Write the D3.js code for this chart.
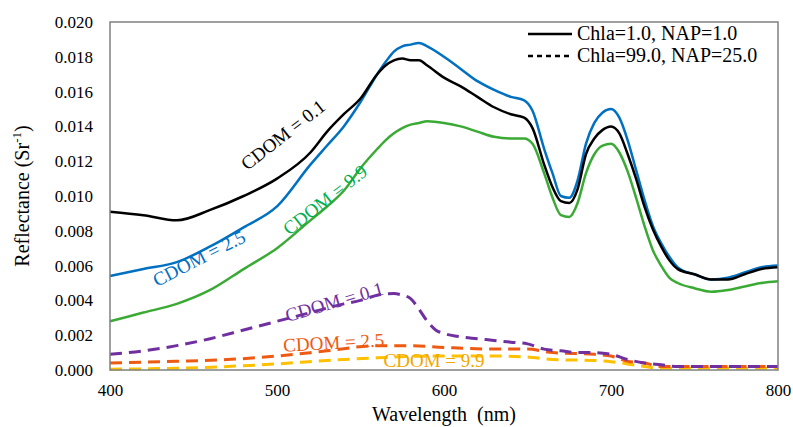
<!DOCTYPE html>
<html>
<head>
<meta charset="utf-8">
<script src="https://cdn.jsdelivr.net/npm/d3@7"></script>
<style>
  body { margin: 0; background: #fff; }
  svg text { font-family: "Liberation Serif", "Times New Roman", Times, "DejaVu Serif", serif; }
</style>
</head>
<body>
<script>
//Size of the picture
var width = 793;
var height = 427;
var margin = {top: 22, right: 15, bottom: 57, left: 110};

//Wavelengths for the solid (Chla=1.0, NAP=1.0) curves
var wlSolid = [400, 420, 440, 460, 480, 500, 520, 530, 540, 550, 560, 565, 570, 575, 580, 585, 590, 600, 610, 620, 630, 640, 648, 653, 660, 665, 670, 675, 680, 685, 690, 695, 700, 705, 710, 715, 720, 725, 730, 735, 740, 750, 760, 770, 780, 790, 800];
var cdom01Solid = [0.0091, 0.0089, 0.0086, 0.0092, 0.0100, 0.0110, 0.0125, 0.0137, 0.0147, 0.0156, 0.0170, 0.0175, 0.0178, 0.0179, 0.0178, 0.0178, 0.0175, 0.0168, 0.0163, 0.0157, 0.0151, 0.0147, 0.0145, 0.0139, 0.0118, 0.0105, 0.0097, 0.0096, 0.0104, 0.0124, 0.0133, 0.0138, 0.0140, 0.0136, 0.0124, 0.0110, 0.0094, 0.0081, 0.0071, 0.0063, 0.0058, 0.0055, 0.0052, 0.0052, 0.0055, 0.0058, 0.0059];
var cdom25Solid = [0.0054, 0.0058, 0.0062, 0.0071, 0.0082, 0.0094, 0.0118, 0.0129, 0.0140, 0.0154, 0.0170, 0.0177, 0.0183, 0.0186, 0.0187, 0.0188, 0.0186, 0.0180, 0.0173, 0.0166, 0.0161, 0.0157, 0.0155, 0.0149, 0.0127, 0.0113, 0.0100, 0.0099, 0.0109, 0.0130, 0.0142, 0.0148, 0.0150, 0.0145, 0.0132, 0.0115, 0.0098, 0.0083, 0.0073, 0.0065, 0.0059, 0.0055, 0.0052, 0.0053, 0.0056, 0.0059, 0.0060];
var cdom99Solid = [0.0028, 0.0033, 0.0038, 0.0046, 0.0058, 0.0070, 0.0086, 0.0094, 0.0103, 0.0116, 0.0127, 0.0132, 0.0136, 0.0139, 0.0141, 0.0142, 0.0143, 0.0142, 0.0140, 0.0137, 0.0134, 0.0133, 0.0133, 0.0130, 0.0113, 0.0099, 0.0089, 0.0088, 0.0096, 0.0113, 0.0124, 0.0129, 0.0130, 0.0125, 0.0114, 0.0099, 0.0083, 0.0069, 0.0060, 0.0053, 0.0050, 0.0047, 0.0045, 0.0046, 0.0048, 0.0050, 0.0051];

//Dashed (Chla=99.0, NAP=25.0) curves
var wlPurple = [400, 420, 440, 460, 480, 500, 520, 540, 550, 560, 570, 575, 580, 585, 590, 595, 600, 610, 620, 630, 640, 650, 660, 670, 680, 690, 700, 710, 720, 730, 740, 760, 780, 800];
var cdom01Dash = [0.0009, 0.0011, 0.0014, 0.0018, 0.0023, 0.0028, 0.0033, 0.0038, 0.0040, 0.0043, 0.0044, 0.0043, 0.0041, 0.0035, 0.0028, 0.0023, 0.0021, 0.0019, 0.0018, 0.0017, 0.0016, 0.0015, 0.0012, 0.0011, 0.0010, 0.0010, 0.0009, 0.0006, 0.0004, 0.0003, 0.0002, 0.0002, 0.0002, 0.0002];
var wlLow = [400, 440, 470, 500, 530, 560, 580, 600, 630, 650, 665, 690, 700, 710, 720, 730, 760, 800];
var cdom25Dash = [0.0004, 0.0005, 0.0006, 0.0008, 0.0011, 0.0014, 0.0014, 0.0013, 0.0012, 0.0012, 0.0010, 0.0009, 0.0008, 0.0005, 0.0004, 0.0002, 0.0002, 0.0002];
var cdom99Dash = [0.00005, 0.0001, 0.0002, 0.00035, 0.00055, 0.0007, 0.00078, 0.0008, 0.0008, 0.00075, 0.0006, 0.00055, 0.00048, 0.00035, 0.0002, 0.0001, 0.0001, 0.0001];

//Axis ticks
var xTicks = [400, 500, 600, 700, 800];
var yTicks = [0, 0.002, 0.004, 0.006, 0.008, 0.010, 0.012, 0.014, 0.016, 0.018, 0.020];

var series = [
    {wl: wlSolid, v: cdom01Solid, color: "#000000", dash: null},
    {wl: wlSolid, v: cdom25Solid, color: "#0070C0", dash: null},
    {wl: wlSolid, v: cdom99Solid, color: "#3AAA35", dash: null},
    {wl: wlPurple, v: cdom01Dash, color: "#7030A0", dash: "12,7"},
    {wl: wlLow, v: cdom25Dash, color: "#EE5A12", dash: "12,7"},
    {wl: wlLow, v: cdom99Dash, color: "#FFC000", dash: "12,7"}
];

//Curve labels: placement in pixels, angle in degrees
var labels = [
    {text: "CDOM = 0.1", color: "#000000", x: 287, y: 140, angle: -38},
    {text: "CDOM = 2.5", color: "#0070C0", x: 202, y: 264, angle: -27},
    {text: "CDOM = 9.9", color: "#00B050", x: 329, y: 205, angle: -38},
    {text: "CDOM = 0.1", color: "#7030A0", x: 336, y: 308, angle: -16},
    {text: "CDOM = 2.5", color: "#EE5A12", x: 334, y: 349, angle: -3},
    {text: "CDOM = 9.9", color: "#F0A800", x: 434, y: 367, angle: 0}
];

var x = d3.scaleLinear()
    .domain([400, 800])
    .range([margin.left, width - margin.right]);

var y = d3.scaleLinear()
    .domain([0, 0.020])
    .range([height - margin.bottom, margin.top]);

var svg = d3.select("body")
    .append("svg")
    .attr("width", width)
    .attr("height", height);

var line = d3.line()
    .x(function(d) { return x(d[0]); })
    .y(function(d) { return y(d[1]); })
    .curve(d3.curveMonotoneX);

//Draw the curves, dashed ones first so solid sit on top
svg.append("g")
    .selectAll("path")
    .data(series.slice().reverse())
    .enter()
    .append("path")
    .attr("d", function(s) {
        return line(s.wl.map(function(w, i) { return [w, s.v[i]]; }));
    })
    .attr("fill", "none")
    .attr("stroke", function(s) { return s.color; })
    .attr("stroke-width", function(s) { return s.dash ? 3 : 2.5; })
    .attr("stroke-dasharray", function(s) { return s.dash; });

//Plot frame
svg.append("rect")
    .attr("x", margin.left)
    .attr("y", margin.top)
    .attr("width", width - margin.left - margin.right)
    .attr("height", height - margin.top - margin.bottom)
    .attr("fill", "none")
    .attr("stroke", "#808080")
    .attr("stroke-width", 1.5);

//Axes without tick marks
var xAxis = svg.append("g")
    .attr("transform", "translate(0," + (height - margin.bottom) + ")")
    .call(d3.axisBottom(x).tickValues(xTicks).tickSize(0).tickPadding(14).tickFormat(d3.format("d")));
xAxis.select(".domain").remove();
xAxis.attr("font-family", null).attr("font-size", null);
xAxis.selectAll("text").attr("font-size", 17).attr("fill", "#000");

var yAxis = svg.append("g")
    .attr("transform", "translate(" + margin.left + ",0)")
    .call(d3.axisLeft(y).tickValues(yTicks).tickSize(0).tickPadding(17).tickFormat(d3.format(".3f")));
yAxis.select(".domain").remove();
yAxis.attr("font-family", null).attr("font-size", null);
yAxis.selectAll("text").attr("font-size", 17).attr("fill", "#000");

//Axis titles
svg.append("text")
    .attr("x", (margin.left + width - margin.right) / 2)
    .attr("y", 421)
    .attr("text-anchor", "middle")
    .attr("font-size", 20)
    .attr("xml:space", "preserve")
    .text("Wavelength  (nm)");

var yTitle = svg.append("text")
    .attr("transform", "translate(29," + (margin.top + height - margin.bottom) / 2 + ") rotate(-90)")
    .attr("text-anchor", "middle")
    .attr("font-size", 20);
yTitle.append("tspan").text("Reflectance (Sr");
yTitle.append("tspan").attr("font-size", 13).attr("dy", -8).text("-1");
yTitle.append("tspan").attr("dy", 8).text(")");

//Curve labels
svg.append("g")
    .selectAll("text")
    .data(labels)
    .enter()
    .append("text")
    .attr("transform", function(d) { return "translate(" + d.x + "," + d.y + ") rotate(" + d.angle + ")"; })
    .attr("text-anchor", "middle")
    .attr("font-size", 19)
    .attr("fill", function(d) { return d.color; })
    .text(function(d) { return d.text; });

//Legend
var legendItems = [
    {text: "Chla=1.0, NAP=1.0", dash: null},
    {text: "Chla=99.0, NAP=25.0", dash: "5,4"}
];
var legend = svg.append("g").attr("transform", "translate(528,34)");
legend.selectAll("line")
    .data(legendItems)
    .enter()
    .append("line")
    .attr("x1", 0)
    .attr("x2", 44)
    .attr("y1", function(d, i) { return i * 22; })
    .attr("y2", function(d, i) { return i * 22; })
    .attr("stroke", "#000")
    .attr("stroke-width", 2.5)
    .attr("stroke-dasharray", function(d) { return d.dash; });
legend.selectAll("text")
    .data(legendItems)
    .enter()
    .append("text")
    .attr("x", 49)
    .attr("y", function(d, i) { return i * 22 + 6; })
    .attr("font-size", 20)
    .text(function(d) { return d.text; });
</script>
</body>
</html>
